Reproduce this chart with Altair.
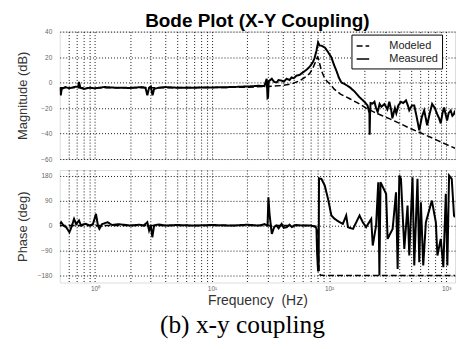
import altair as alt
import pandas as pd

# ---------------- data ----------------
mag_model_f = [0.5, 1, 3, 10, 20, 30, 40, 48, 56, 62, 68, 72, 75.5, 78, 79.5, 81, 83, 86, 90,
               94.7, 100, 104.6, 110, 125, 150, 180, 207, 240, 282, 330, 400, 480, 589, 700,
               850, 1000, 1190]
mag_model_db = [-4, -4, -4, -3.9, -3.6, -3, -2.3, -1, 1.5, 4, 7, 10.5, 15, 18, 20, 19, 15, 9.4, 5,
                1.6, -0.5, -2.3, -5, -9, -12.7, -16.5, -20, -23, -25.8, -28.5, -32, -35.5, -39, -42,
                -45.5, -48.5, -51.5]

mag_meas_f = [0.5, 0.51, 0.52, 0.56, 0.6, 0.66, 0.72, 0.73, 0.75, 0.8, 0.9, 1.0, 1.2, 1.5, 2.0,
              2.5, 2.7, 2.8, 2.9, 3.0, 3.1, 3.2, 3.5, 4, 5, 7, 10, 15, 18, 21, 25, 28, 29.3, 29.8,
              30.1, 30.5, 32.4, 34, 35.7, 37, 39.3, 41, 43.4, 46, 47.8, 50, 52.7, 56, 59.7, 63,
              65.8, 69, 72.6, 75, 78, 80.5, 83, 86, 91.8, 97.9, 104.6, 110, 115.4, 121, 127, 135,
              150, 165, 182, 200, 213, 221, 222, 224, 226, 235, 244, 252, 260, 270, 280, 297, 315,
              327, 340, 347, 365, 375, 390, 411, 430, 454, 475, 484, 510, 534, 560, 589, 620, 649,
              670, 688, 720, 759, 800, 837, 870, 899, 930, 960, 990, 1018, 1050, 1094, 1130, 1167,
              1190]
mag_meas_db = [-4, -10, -5, -3.5, -4.5, -3.5, -3, 0.5, -4, -5, -4, -4.5, -3.5, -4, -4.2,
               -3.5, -4, -10, -4, -3, -10, -5, -4, -3.5, -4, -4, -3.8, -3.5, -3.2, -3, -2.5, -2.8, 3, -12,
               -11.5, 1, 3, 0.5, 0.2, 2, 1.5, 0.8, 3, 2, 4, 3.5, 5.5, 6, 8, 9.5,
               11, 13, 16, 19, 25, 31.5, 29, 29, 27.6, 24, 19.8, 14, 9.4, 4, 0.2, -1,
               -3.6, -7, -11.5, -15, -18, -24, -41, -24, -16, -16.5, -15, -20, -23, -16.8, -19, -16.8, -21,
               -15, -22, -28, -20, -24, -18, -15, -16, -14, -19, -21.7, -18, -18, -27, -37.5, -27, -21.8,
               -28, -33.6, -25, -16.8, -20, -24.6, -28, -32, -24, -19.5, -25, -29.7, -24, -22, -26, -24.6,
               -22]

ph_model_f = [0.5, 70, 78, 80, 81, 82, 84, 90, 1190]
ph_model_deg = [0, 0, -3, -20, -90, -160, -178, -180, -180]

ph_meas_f = [0.5, 0.514, 0.54, 0.567, 0.605, 0.63, 0.663, 0.69, 0.731, 0.76, 0.8, 0.839, 0.9, 0.96,
             1.02, 1.06, 1.09, 1.15, 1.28, 1.4, 1.6, 2.0, 2.4, 2.6, 2.8, 2.9, 3.0, 3.09, 3.2, 3.5, 4,
             5, 7, 10, 15, 20, 25, 28, 29.8, 30.3, 31, 32.4, 34, 35.7, 37, 39.3, 41, 43.4, 46, 48,
             52, 60, 70, 75.5, 78, 79, 80.5, 81.5, 82, 86, 91.8, 97.9, 104.6, 111.6, 123, 131, 140,
             145, 160, 182, 194, 207, 229, 236, 252, 263, 269, 275, 307, 316, 349, 373, 385, 398,
             411, 439, 468, 484, 516, 534, 569, 589, 608, 637, 671, 755, 816, 842, 899, 946, 993,
             1024, 1059, 1116, 1167, 1190]
ph_meas_deg = [5, 12, 0, -6, -24, -5, 24, 5, 18, 0, 5, 6, 0, 5,
               42, 0, -12, 5, 12, 2, 5, 0, 3, 0, 12, -18, 0, -42, 0, 4, 0,
               2, 0, 2, 0, 3, 0, 5, 0, 102, 40, -30, -5, 0, -10, 6, -8, -6, 3, -5,
               2, 0, 0, -4, -10, -100, -165, -150, 170, 168, 144, 96, 36, 24, 12, 6, 36,
               -6, -12, 36, 12, -6, 24, -72, 0, 156, -180, 156, 114, -48, -12, 120, -156, 180,
               168, -84, 72, -108, 174, -144, 168, -132, 84, -144, 12, 90, 12, -108, -48, -150, 114,
               -144, 180, 168, 36, 30]

series_order = ["Modeled", "Measured"]
x_ticks = [0.6, 0.7, 0.8, 0.9, 1, 2, 3, 4, 5, 6, 7, 8, 9, 10, 20, 30, 40, 50, 60, 70, 80, 90,
           100, 200, 300, 400, 500, 600, 700, 800, 900, 1000]
mag_ticks = [-60, -40, -20, 0, 20, 40]
ph_ticks = [-180, -90, 0, 90, 180]

mag_df = pd.concat([
    pd.DataFrame({"f": mag_model_f, "v": mag_model_db, "series": "Modeled"}),
    pd.DataFrame({"f": mag_meas_f, "v": mag_meas_db, "series": "Measured"}),
])
ph_df = pd.concat([
    pd.DataFrame({"f": ph_model_f, "v": ph_model_deg, "series": "Modeled"}),
    pd.DataFrame({"f": ph_meas_f, "v": ph_meas_deg, "series": "Measured"}),
])

FONT = "Liberation Sans"
LBL = "#666666"
TTL = "#333333"

xscale = alt.Scale(type="log", domain=[0.5, 1190], nice=False)
dash = alt.Scale(domain=series_order, range=[[6, 3], [1, 0]])

common_axis = dict(grid=True, gridDash=[1, 2], gridColor="#000000", gridOpacity=0.9,
                   ticks=False, domain=False, labelFont=FONT, labelFontSize=6.5,
                   labelColor=LBL, titleFont=FONT, titleFontSize=13, titleColor=TTL,
                   titleFontWeight="normal")

x_top = alt.X("f:Q", scale=xscale,
              axis=alt.Axis(values=x_ticks, labels=False, title=None, **common_axis))
x_bot = alt.X("f:Q", scale=xscale,
              axis=alt.Axis(values=x_ticks, title="Frequency\u00a0 (Hz)", labelPadding=3,
                            titlePadding=2,
                            labelExpr="datum.value==1?'10⁰':datum.value==10?'10¹':datum.value==100?'10²':datum.value==1000?'10³':''",
                            **{**common_axis, "titleFontSize": 14}))


def panel(df, x, yfield_title, ydom, yvals, h, show_legend, ty):
    base = alt.Chart(df)
    y = alt.Y("v:Q", scale=alt.Scale(domain=ydom, nice=False, zero=False),
              axis=alt.Axis(values=yvals, title=yfield_title, labelPadding=8,
                            titleX=-37, titleY=ty, titleBaseline="middle", titleAngle=-90,
                            **common_axis))
    leg = alt.Legend(title=None, orient="none", legendX=293, legendY=3,
                     fillColor="white", strokeColor="#000000", padding=4,
                     labelFont=FONT, labelFontSize=11, labelColor="#222222",
                     symbolType="stroke", symbolSize=160, symbolStrokeWidth=1.5,
                     symbolStrokeColor="black", rowPadding=0, labelOffset=19,
                     cornerRadius=0) if show_legend else None
    sd = alt.StrokeDash("series:N", scale=dash, sort=series_order, legend=leg)
    meas = base.transform_filter("datum.series=='Measured'").mark_line(
        color="black", strokeWidth=2, clip=True).encode(x=x, y=y, strokeDash=sd,
                                                        order=alt.Order("f:Q"))
    mod = base.transform_filter("datum.series=='Modeled'").mark_line(
        color="black", strokeWidth=1.5, clip=True).encode(x=x, y=y, strokeDash=sd,
                                                          order=alt.Order("f:Q"))
    return alt.layer(meas, mod).properties(width=397, height=h)


top = panel(mag_df, x_top, "Magnitude (dB)", [-60, 40], mag_ticks, 128, True, 64)
bot = panel(ph_df, x_bot, "Phase (deg)", [-205, 200], ph_ticks, 113, False, 56.5).properties(
    title=alt.TitleParams("(b) x-y coupling", orient="bottom", anchor="middle",
                          font="Liberation Serif", fontSize=25.5, fontWeight="normal",
                          color="#000000", offset=5, dx=-15, frame="group"))

chart = alt.vconcat(top, bot, spacing=6).properties(
    title=alt.TitleParams("Bode Plot (X-Y Coupling)", anchor="middle", frame="group",
                          font=FONT, fontSize=19, fontWeight="bold", color="#000000",
                          offset=-3),
    padding={"left": 16, "top": 11, "right": 0, "bottom": 0},
).configure_view(stroke="#000000", strokeWidth=1).configure(background="white")

chart.save("out.html", embed_options={"renderer": "svg", "actions": False})
